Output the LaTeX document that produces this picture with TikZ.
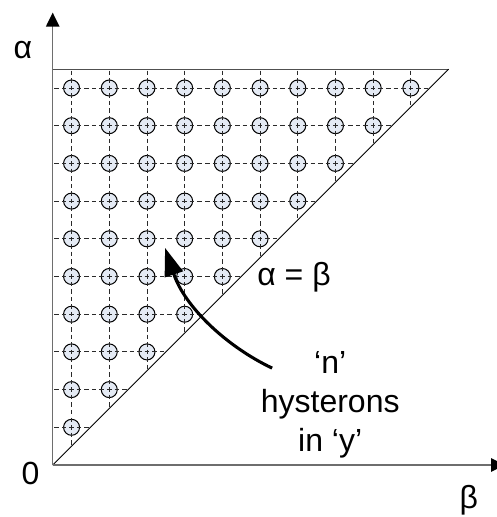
\documentclass[tikz,border=0pt]{standalone}
\usepackage{fontspec}
\setmainfont{Liberation Sans}
\usepackage{xcolor}
\usepackage{tikz}
\usetikzlibrary{arrows.meta}
\definecolor{PlotAxis}{HTML}{6E6E6E}
\definecolor{PlotEdge}{HTML}{505050}
\definecolor{PlotInk}{HTML}{000000}
\definecolor{PlotGrid}{HTML}{2A2A2A}
\definecolor{HysteronFill}{HTML}{E4EAF4}
\newcommand{\PlotLabel}{\fontsize{24}{29.25}\selectfont}
\tikzset{
  axis line/.style={draw=PlotAxis,line width=1.1pt,-{Triangle[length=10.5pt,width=10pt,color=PlotInk]}},
  edge line/.style={draw=PlotEdge,line width=0.9pt},
  diag line/.style={draw=PlotInk,line width=0.7pt},
  grid line/.style={draw=PlotGrid,line width=0.65pt,dash pattern=on 3.4pt off 2.255pt,dash phase=4.525pt},
  hysteron/.style={draw=PlotInk,fill=HysteronFill,line width=0.75pt},
  big arrow/.style={draw=PlotInk,line width=2.3pt,-{Triangle[length=21pt,width=14pt]}},
  plot text/.style={text=PlotInk,font=\PlotLabel,inner sep=0pt}
}

\begin{document}
\begin{tikzpicture}[x=28.275pt,y=28.275pt]
  % one unit = one hysteron cell, origin at the axis corner
  \path[use as bounding box] (-1.398,-1.379) rectangle (11.759,12.334);

  \def\ntop{9}
  \def\ytop{10.5}
  \def\rad{6pt}

  \coordinate (origin) at (0,0);
  \coordinate (ytip) at (0,12.0);
  \coordinate (xtip) at (12.0,0);
  \coordinate (topleft) at (0,\ytop);
  \coordinate (topright) at (\ytop,\ytop);

  % hysterons above the line alpha = beta
  \foreach \j in {0,...,\ntop}{
    \foreach \i in {0,...,\j}{
      \draw[hysteron] ({0.5+\i},{1+\j}) circle[radius=\rad];
    }
  }
  \foreach \k in {0,...,\ntop}{
    \draw[grid line] (0,{1+\k}) -- ({1+\k},{1+\k});
    \draw[grid line] ({0.5+\k},\ytop) -- ({0.5+\k},{0.5+\k});
  }

  \draw[edge line] (topleft) -- (topright);
  \draw[diag line] (origin) -- (topright);
  \draw[axis line] (origin) -- (ytip);
  \draw[axis line] (origin) -- (xtip);

  \node[plot text] (alpha) at (-0.788,11.0) {α};
  \node[plot text] (zero) at (-0.589,-0.212) {0};
  \node[plot text] (beta) at (11.04,-0.93) {β};
  \node[plot text,anchor=west] (diag) at (5.42,4.99) {α = β};
  \node[plot text,align=center] (hyst) at (7.36,1.60) {‘n’\\hysterons\\in ‘y’};

  \coordinate (arrowfrom) at (5.82,2.57);
  \coordinate (arrowto) at (2.98,5.76);
  \draw[big arrow] (arrowfrom) .. controls (4.6,3.15) and (3.5,4.2) .. (arrowto);
\end{tikzpicture}
\end{document}
